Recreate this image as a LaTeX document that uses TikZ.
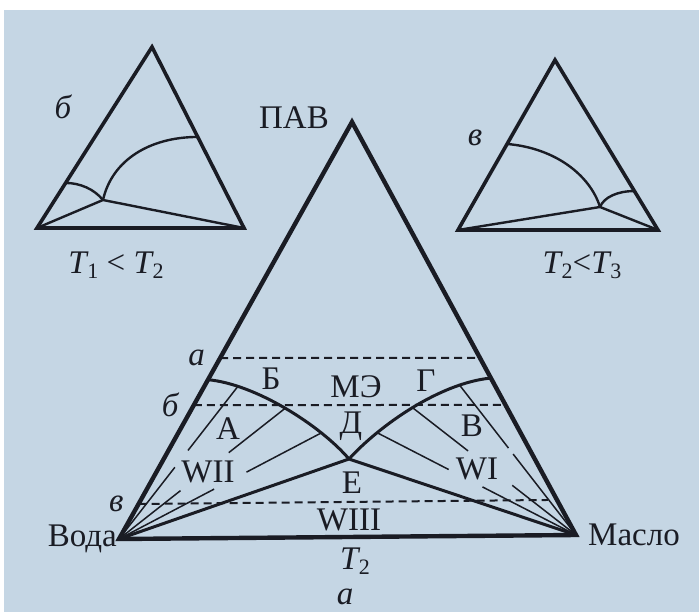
\documentclass[tikz,border=0pt]{standalone}
\usepackage{fontspec}
\setmainfont{Liberation Serif}
\usepackage{xcolor}
\usepackage{tikz}
\usetikzlibrary{arrows.meta,
positioning,
calc}

\definecolor{pagebg}{RGB}{197,214,228}
\definecolor{ink}{RGB}{26,28,36}

\newcommand{\Tidx}[1]{\textit{T}\kern-0.04em\raisebox{-0.35ex}{\fontsize{22}{22}\selectfont #1}}

\begin{document}
\begin{tikzpicture}[
				x=1pt, y=-1pt,
				edge/.style={draw=ink, line width=4.4pt, line join=miter},
				smalledge/.style={draw=ink, line width=3.6pt, line join=miter},
				binodal/.style={draw=ink, line width=3pt},
				smallcurve/.style={draw=ink, line width=2.4pt},
				tie/.style={draw=ink, line width=1.5pt},
				level/.style={draw=ink, line width=2pt, dash pattern=on 8pt off 5pt},
				lbl/.style={text=ink, inner sep=0pt, font=\fontsize{33}{33}\selectfont},
				ilbl/.style={lbl, font=\fontsize{33}{33}\selectfont\itshape}
				]
				\fill[white] (0,0) rectangle (699,612);
				\fill[pagebg] (4,10) rectangle (699,612);
				\useasboundingbox (0,0) rectangle (699,612);
				
				% main diagram
				\coordinate (pav) at (352,122);
				\coordinate (voda) at (119,539);
				\coordinate (maslo) at (576,535);
				\coordinate (cmc) at (349,459);
				
				\coordinate (aL) at ($(voda)!0.434!(pav)$);
				\coordinate (aR) at ($(maslo)!0.429!(pav)$);
				\coordinate (bL) at ($(voda)!0.321!(pav)$);
				\coordinate (bR) at ($(maslo)!0.315!(pav)$);
				\coordinate (vL) at ($(voda)!0.084!(pav)$);
				\coordinate (vR) at ($(maslo)!0.085!(pav)$);
				\draw[level] (aL) -- (aR);
				\draw[level] (bL) -- (bR);
				\draw[level, shorten >=9pt] (vL) -- (vR);
				
				\coordinate (binL) at ($(voda)!0.382!(pav)$);
				\coordinate (binR) at ($(maslo)!0.38!(pav)$);
				\draw[binodal] (binL) .. controls (255,384) and (320,425) .. (cmc)
					coordinate[pos=0.2] (tl1) coordinate[pos=0.5] (tl2) coordinate[pos=0.75] (tl3);
				\draw[binodal] (binR) .. controls (440,383) and (380,425) .. (cmc)
					coordinate[pos=0.2] (tr1) coordinate[pos=0.5] (tr2) coordinate[pos=0.75] (tr3);
				\draw[binodal] (cmc) -- (maslo);
				\draw[binodal] (cmc) -- (voda);
				
				% tie lines
				\draw[tie] (tl1) -- ($(tl1)!0.42!(voda)$) ($(tl1)!0.53!(voda)$) -- (voda);
				\draw[tie] (tl2) -- ($(tl2)!0.34!(voda)$) ($(tl2)!0.63!(voda)$) -- (voda);
				\draw[tie] (tl3) -- ($(tl3)!0.37!(voda)$) ($(tl3)!0.53!(voda)$) -- (voda);
				\draw[tie] (tr1) -- ($(tr1)!0.42!(maslo)$) ($(tr1)!0.46!(maslo)$) -- (maslo);
				\draw[tie] (tr2) -- ($(tr2)!0.34!(maslo)$) ($(tr2)!0.61!(maslo)$) -- (maslo);
				\draw[tie] (tr3) -- ($(tr3)!0.36!(maslo)$) ($(tr3)!0.53!(maslo)$) -- (maslo);
				
				\draw[edge] (voda) -- (pav) -- (maslo) -- cycle;
				
				\node[lbl] (pavlbl) at (294,118) {ПАВ};
				\node[lbl, left=2pt of voda] (vodalbl) {Вода};
				\node[lbl, right=12pt of maslo] (maslolbl) {Масло};
				\node[ilbl, left=15pt of aL] (alvl) {а};
				\node[ilbl, left=15pt of bL] (blvl) {б};
				\node[ilbl, left=15pt of vL] (vlvl) {в};
				
				\node[lbl] (regB) at (271,379) {Б};
				\node[lbl] (regME) at (356,387) {МЭ};
				\node[lbl] (regG) at (426,381) {Г};
				\node[lbl] (regA) at (228,429) {А};
				\node[lbl] (regD) at (351,426) {Д};
				\node[lbl] (regV) at (472,426) {В};
				\node[lbl] (wii) at (208,472) {WII};
				\node[lbl] (regE) at (352,483) {Е};
				\node[lbl] (wi) at (477,469) {WI};
				\node[lbl] (wiii) at (349,520) {WIII};
				\node[lbl] (tmain) at (355,561) {\Tidx{2}};
				\node[ilbl] (capa) at (345,597) {а};
				
				% small triangle b
				\coordinate (bApex) at (152,47);
				\coordinate (bLeft) at (37,228);
				\coordinate (bRight) at (244,228);
				\coordinate (bNode) at (103,200);
				\draw[smallcurve] ($(bRight)!0.503!(bApex)$) .. controls (150,137) and (112,160) .. (bNode);
				\draw[smallcurve] ($(bLeft)!0.249!(bApex)$) .. controls (80,183) and (94,189) .. (bNode);
				\draw[smallcurve] (bLeft) -- (bNode) -- (bRight);
				\draw[smalledge] (bLeft) -- (bApex) -- (bRight) -- cycle;
				\node[ilbl] (blbl) at (63,107) {б};
				\node[lbl] (tb) at (116,265) {\Tidx{1} < \Tidx{2}};
				
				% small triangle v
				\coordinate (vApex) at (555,60);
				\coordinate (vLeft) at (458,230);
				\coordinate (vRight) at (658,230);
				\coordinate (vNode) at (600,207);
				\draw[smallcurve] ($(vLeft)!0.506!(vApex)$) .. controls (555,148) and (590,175) .. (vNode);
				\draw[smallcurve] (vNode) .. controls (604,197) and (618,191) .. ($(vRight)!0.229!(vApex)$);
				\draw[smallcurve] (vLeft) -- (vNode) -- (vRight);
				\draw[smalledge] (vLeft) -- (vApex) -- (vRight) -- cycle;
				\node[ilbl] (vlbl) at (475,138) {в};
				\node[lbl] (tv) at (582,265) {\Tidx{2}<\Tidx{3}};
			\end{tikzpicture}
\end{document}
